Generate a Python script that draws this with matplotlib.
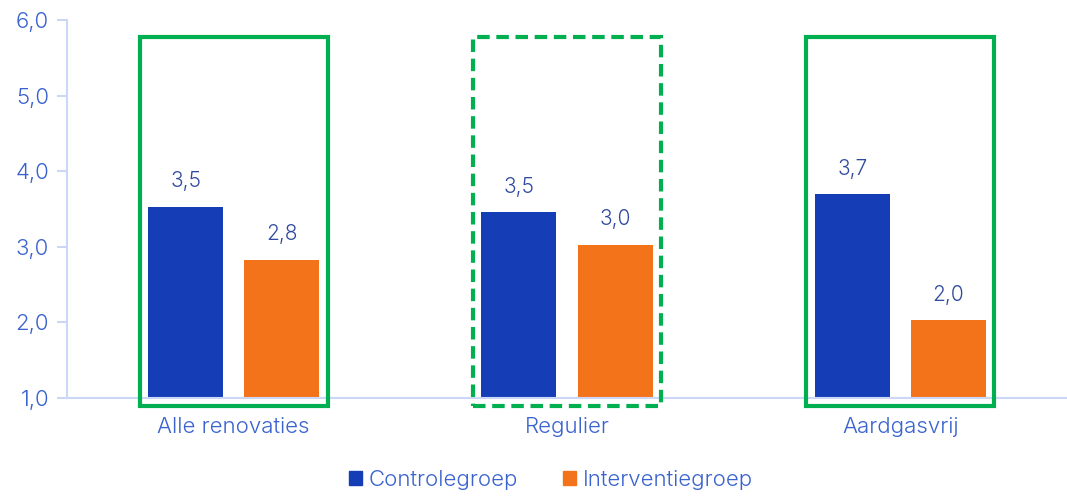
import matplotlib as mpl
mpl.use("Agg")
import matplotlib.pyplot as plt
from matplotlib.patches import Rectangle, Patch
import numpy as np

categories = ["Alle renovaties", "Regulier", "Aardgasvrij"]
controle = [3.53, 3.46, 3.70]
interventie = [2.83, 3.03, 2.03]
box_styles = ["solid", "dashed", "solid"]

BLUE = "#153EB6"
ORANGE = "#F3731B"
GREEN = "#00B050"
TICK_TXT = "#3A63CF"
VAL_TXT = "#2F4A9E"
AXIS = "#CCD7F7"

plt.rcParams["font.family"] = ["Inter", "DejaVu Sans"]
plt.rcParams["font.weight"] = 300

fig = plt.figure(figsize=(10.67, 4.96), dpi=100)
ax = fig.add_axes([67 / 1067, 98 / 496, 1000 / 1067, 378 / 496])

x = np.arange(len(categories))
w = 0.225
gap = 0.063
b1 = ax.bar(x - (w + gap) / 2, np.array(controle) - 1, w, bottom=1, color=BLUE, label="Controlegroep")
b2 = ax.bar(x + (w + gap) / 2, np.array(interventie) - 1, w, bottom=1, color=ORANGE, label="Interventiegroep")

for bars, vals in ((b1, controle), (b2, interventie)):
    for bar, v in zip(bars, vals):
        ax.annotate(f"{v:.1f}".replace(".", ","),
                    xy=(bar.get_x() + bar.get_width() / 2, v),
                    xytext=(0, 11), textcoords="offset points",
                    ha="center", va="bottom", fontsize=15, color=VAL_TXT)

# green highlight boxes
for xi, ls in zip(x, box_styles):
    ax.add_patch(Rectangle((xi - 0.282, 0.895), 0.564, 4.88, fill=False,
                           edgecolor=GREEN, linewidth=3, linestyle=ls if ls == "solid" else (0, (3, 1.6)),
                           clip_on=False, zorder=3))

ax.set_xlim(-0.5, 2.5)
ax.set_ylim(1, 6)
ax.set_yticks([1, 2, 3, 4, 5, 6])
ax.set_yticklabels([f"{t:.1f}".replace(".", ",") for t in [1, 2, 3, 4, 5, 6]])
ax.set_xticks(x)
ax.set_xticklabels(categories)
ax.tick_params(axis="y", colors=AXIS, labelcolor=TICK_TXT, labelsize=16, length=7, width=1.5, pad=6)
ax.tick_params(axis="x", length=0, labelcolor=TICK_TXT, labelsize=16, pad=14)
for s in ["top", "right"]:
    ax.spines[s].set_visible(False)
for s in ["left", "bottom"]:
    ax.spines[s].set_color(AXIS)
    ax.spines[s].set_linewidth(1.5)

handles = [Patch(color=BLUE, label="Controlegroep"), Patch(color=ORANGE, label="Interventiegroep")]
leg = fig.legend(handles=handles, loc="center", bbox_to_anchor=(551 / 1067, 16 / 496), ncol=2,
                 frameon=False, fontsize=16, handlelength=0.6, handleheight=0.6,
                 handletextpad=0.3, columnspacing=2.0)
for t in leg.get_texts():
    t.set_color(TICK_TXT)

fig.savefig("out.png", dpi=100)
